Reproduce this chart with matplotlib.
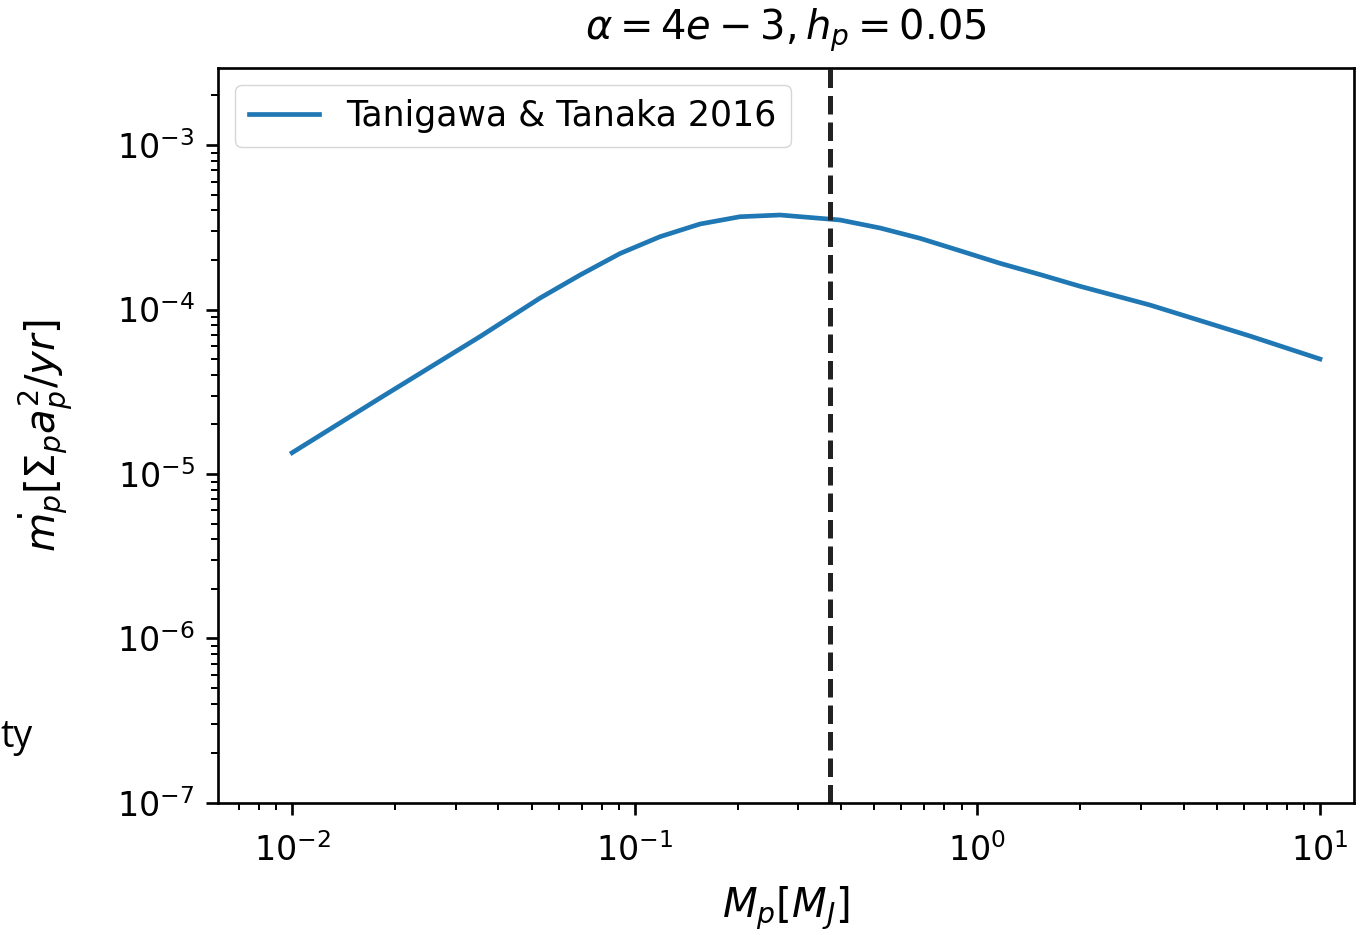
import matplotlib
matplotlib.use("Agg")
import matplotlib.pyplot as plt
import numpy as np

# planet mass [M_J] and accretion rate
mass = [0.01, 0.01806, 0.03537, 0.05293, 0.06925, 0.0906, 0.1185, 0.1551,
        0.2029, 0.2655, 0.3973, 0.5198, 0.6801, 0.8896, 1.164, 1.523,
        1.992, 3.189, 6.245, 10.0]
mdot = [1.347e-5, 2.897e-5, 6.85e-5, 1.174e-4, 1.621e-4, 2.190e-4, 2.771e-4,
        3.310e-4, 3.665e-4, 3.754e-4, 3.501e-4, 3.13e-4, 2.709e-4, 2.277e-4,
        1.910e-4, 1.632e-4, 1.385e-4, 1.065e-4, 6.90e-5, 5.00e-5]
gap_mass = 0.372
label = "Tanigawa & Tanaka 2016"

s = 2.4  # scale of the original screenshot
plt.rcParams.update({
    "font.size": 10 * s,
    "axes.linewidth": 0.8 * s,
    "xtick.major.size": 3.5 * s, "ytick.major.size": 3.5 * s,
    "xtick.minor.size": 2 * s, "ytick.minor.size": 2 * s,
    "xtick.major.width": 0.8 * s, "ytick.major.width": 0.8 * s,
    "xtick.minor.width": 0.6 * s, "ytick.minor.width": 0.6 * s,
    "xtick.major.pad": 3.5 * s + 5, "ytick.major.pad": 3.5 * s,
    "legend.fontsize": 25,
})

fig = plt.figure(figsize=(13.63, 9.35), dpi=100)
ax = fig.add_axes([0.160, 0.1412, 0.8334, 0.7861])

ax.loglog(mass, mdot, color="#1f77b4", lw=1.4 * s, label=label)
ax.axvline(gap_mass, color="#222222", lw=1.5 * s, linestyle=(0, (3.7, 1.6)))

ax.set_xlim(6.08e-3, 12.57)
ax.set_ylim(1e-7, 2.94e-3)
ax.set_title(r"$\alpha = 4e-3, h_p = 0.05$", pad=20)
ax.set_xlabel(r"$M_p[M_J]$", fontsize=29, labelpad=12)
ax.set_ylabel(r"$\dot{m_p}[\Sigma_p a_p^2/yr]$", fontsize=29, labelpad=30)
ax.legend(loc="upper left", borderpad=0.4, handlelength=2.0)

# stray text from the slide behind the screenshot
fig.text(0.0, 0.212, "ty", fontsize=27, family="Open Sans", va="center", ha="left")

fig.savefig("out.png", dpi=100)
